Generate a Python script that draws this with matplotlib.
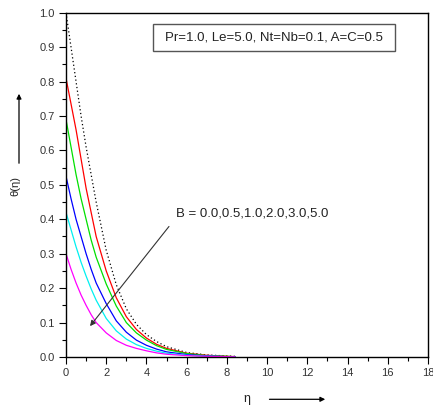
import matplotlib
matplotlib.use("Agg")
import matplotlib.pyplot as plt
from matplotlib.ticker import MultipleLocator
from matplotlib.patches import Rectangle, FancyArrowPatch

plt.rcParams['font.family'] = ['Liberation Sans', 'DejaVu Sans']

eta = [0, 0.25, 0.5, 0.75, 1, 1.25, 1.5, 2, 2.5, 3, 3.5, 4, 4.5, 5, 6, 7, 8, 8.4]
theta_B00 = [1.0, 0.90, 0.80, 0.70, 0.61, 0.53, 0.45, 0.31, 0.21, 0.14, 0.095, 0.065, 0.045, 0.03, 0.013, 0.006, 0.003, 0.002]
theta_B05 = [0.81, 0.735, 0.66, 0.575, 0.49, 0.42, 0.35, 0.25, 0.172, 0.117, 0.08, 0.055, 0.037, 0.025, 0.011, 0.005, 0.002, 0.001]
theta_B10 = [0.69, 0.61, 0.53, 0.46, 0.40, 0.34, 0.29, 0.212, 0.148, 0.10, 0.07, 0.049, 0.033, 0.022, 0.01, 0.004, 0.002, 0.001]
theta_B20 = [0.525, 0.46, 0.40, 0.35, 0.30, 0.255, 0.215, 0.155, 0.105, 0.072, 0.049, 0.034, 0.023, 0.015, 0.007, 0.003, 0.001, 0.001]
theta_B30 = [0.42, 0.37, 0.32, 0.275, 0.235, 0.198, 0.165, 0.112, 0.076, 0.052, 0.036, 0.025, 0.017, 0.011, 0.005, 0.002, 0.001, 0.0005]
theta_B50 = [0.30, 0.255, 0.215, 0.18, 0.15, 0.123, 0.10, 0.07, 0.048, 0.034, 0.025, 0.018, 0.012, 0.008, 0.004, 0.002, 0.001, 0.0005]

series = [theta_B00, theta_B05, theta_B10, theta_B20, theta_B30, theta_B50]
colors = ['black', '#ff0000', '#00e000', '#0000ff', '#00f0f0', '#ff00ff']
styles = [(0, (1, 2)), '-', '-', '-', '-', '-']

fig = plt.figure(figsize=(4.33, 4.11), dpi=100)
ax = fig.add_axes([66/433, 1-357/411, (428-66)/433, (357-12.7)/411])

for y, c, ls in zip(series, colors, styles):
    ax.plot(eta, y, color=c, linestyle=ls, linewidth=0.9)

ax.set_xlim(0, 18)
ax.set_ylim(0, 1.0)
ax.xaxis.set_major_locator(MultipleLocator(2))
ax.xaxis.set_minor_locator(MultipleLocator(1))
ax.yaxis.set_major_locator(MultipleLocator(0.1))
ax.yaxis.set_minor_locator(MultipleLocator(0.05))
ax.xaxis.set_major_formatter(matplotlib.ticker.FormatStrFormatter('%d'))
ax.yaxis.set_major_formatter(matplotlib.ticker.FormatStrFormatter('%.1f'))
ax.tick_params(which='major', direction='out', length=5, width=0.8, labelsize=8,
               labelcolor='#333333', pad=3)
ax.tick_params(which='minor', direction='out', length=3, width=0.8)
ax.tick_params(top=False, right=False)
for s in ax.spines.values():
    s.set_linewidth(1.0)

# parameter box
fig.patches.append(Rectangle((152.5/433, 1-51/411), (395-152.5)/433, (51-24)/411,
                             transform=fig.transFigure, fill=False,
                             edgecolor='#555555', linewidth=1.0))
fig.text(273.5/433, 1-38/411, 'Pr=1.0, Le=5.0, Nt=Nb=0.1, A=C=0.5',
         ha='center', va='center', fontsize=9.5, color='#222222')

# B annotation and arrow
fig.text(176/433, 1-213.5/411, 'B = 0.0,0.5,1.0,2.0,3.0,5.0',
         ha='left', va='center', fontsize=9.5, color='#222222')
fig.patches.append(FancyArrowPatch((170.7/433, 1-224.3/411), (88.3/433, 1-328.3/411),
                                   transform=fig.transFigure, arrowstyle='-|>',
                                   mutation_scale=8, color='#333333', linewidth=0.8))

# y label with arrow
fig.text(15/433, 1-186/411, 'θ(η)', rotation=90, ha='center', va='center',
         fontsize=8, color='#222222')
fig.patches.append(FancyArrowPatch((19/433, 1-166/411), (19/433, 1-91/411),
                                   transform=fig.transFigure, arrowstyle='-|>',
                                   mutation_scale=7, color='black', linewidth=0.9))

# x label with arrow
fig.text(246.7/433, 1-399/411, 'η', ha='center', va='center',
         fontsize=9, color='#222222')
fig.patches.append(FancyArrowPatch((266.7/433, 1-399.3/411), (328/433, 1-399.3/411),
                                   transform=fig.transFigure, arrowstyle='-|>',
                                   mutation_scale=7, color='black', linewidth=0.9))

fig.savefig('out.png', dpi=100)
